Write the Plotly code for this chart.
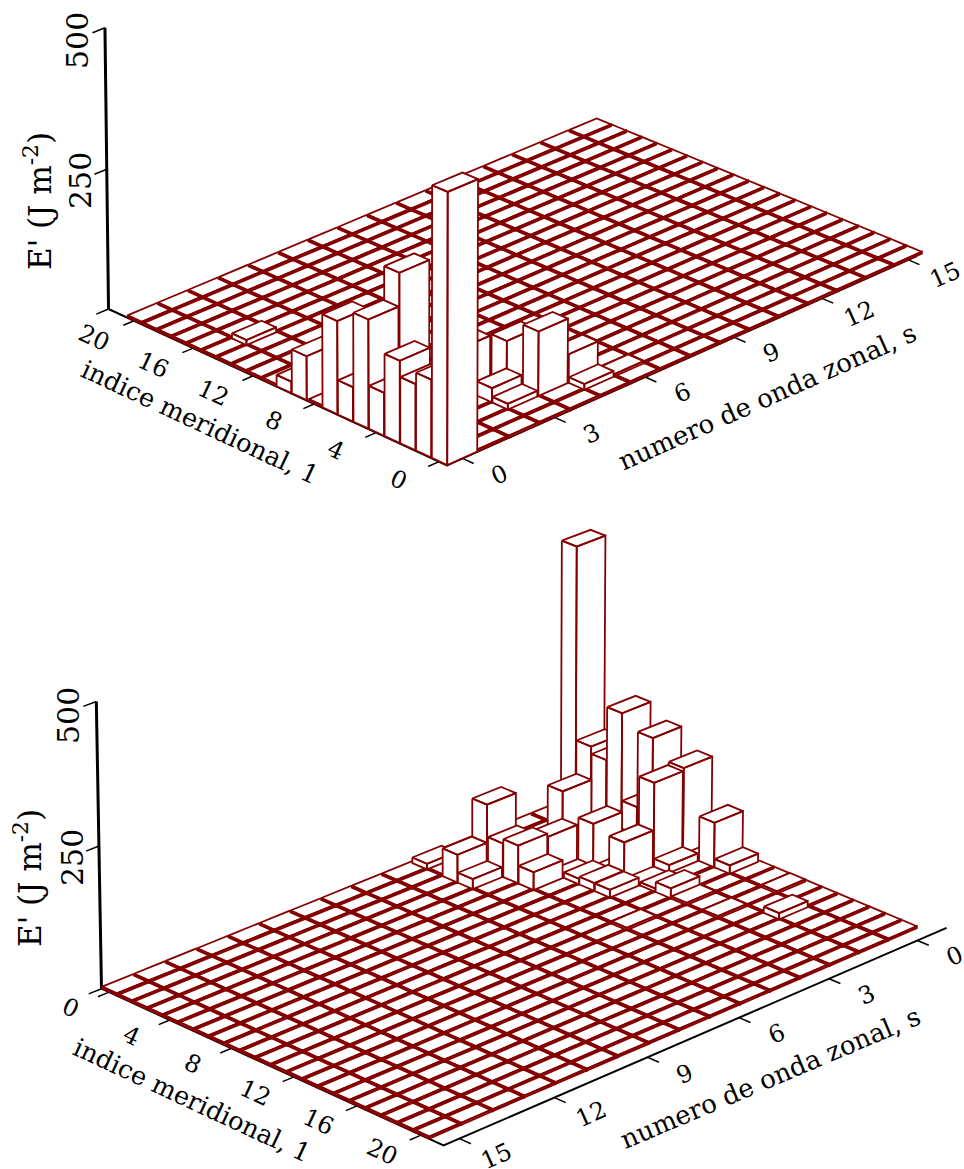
import numpy as np
import plotly.graph_objects as go

RED = "#850000"
FONT = "DejaVu Serif"
S_COUNT = 16
L_COUNT = 21
FLOOR = 3.5
WIDTH = 0.97

top_s = [0,0,0,0,0,0,0,0,0,0,1,4,5,5,3,3,3,4,4,1,1,6]
top_l = [0,1,2,3,4,5,6,7,9,10,5,2,2,1,2,3,5,4,5,15,11,1]
top_v = [468,135,115,143,75,190,60,163,77,20,248,113,50,10,10,25,70,72,50,9,4,4]

bot_s = [0,0,0,0,0,0,0,0,0,1,1,2,2,2,3,5,5,4,4,4,3,3,3,3,2,2,1,0,2,2,4,5,4]
bot_l = [0,1,2,3,4,5,7,9,10,8,7,7,5,3,0,2,3,3,4,5,4,6,7,8,10,9,15,13,11,13,11,0,0]
bot_v = [473,125,112,208,50,186,155,80,15,14,150,65,75,110,73,50,18,60,68,32,62,10,14,14,18,6,11,4,4,4,4,10,5]

s_ticks = [0,3,6,9,12,15]
l_ticks = [0,4,8,12,16,20]
z_ticks = [0,250,500]


def fit_camera(pairs):
    rows, rhs = [], []
    for (s, l, z), (x, y) in pairs:
        rows.append([s, l, z, 1, 0, 0, 0, 0, -x*s, -x*l, -x*z]); rhs.append(x)
        rows.append([0, 0, 0, 0, s, l, z, 1, -y*s, -y*l, -y*z]); rhs.append(y)
    p = np.linalg.lstsq(np.array(rows, float), np.array(rhs, float), rcond=None)[0]
    return np.append(p, 1.0).reshape(3, 4)


def project(P, s, l, z=0.0):
    q = P @ np.array([s, l, z, 1.0])
    return q[0]/q[2], q[1]/q[2]


P_top = fit_camera([
    ((-.5, -.5, 0), (447.5, 466)), ((15.5, -.5, 0), (922, 256)),
    ((15.5, 20.5, 0), (597, 118)), ((-.5, 20.5, 0), (127, 316)),
    ((-.5, 21.75, 0), (108, 308)), ((-.5, 21.75, 250), (107, 172)),
    ((-.5, 21.75, 500), (104, 29)), ((-.5, -.5, 500), (448, 171)),
    ((15.5, -.5, 500), (928, -29)), ((15.5, 20.5, 500), (600, -152)),
])
P_bot = fit_camera([
    ((15.5, -.5, 0), (102, 987)), ((15.5, 20.5, 0), (430, 1140)),
    ((-.5, 20.5, 0), (917, 930)), ((-.5, -.5, 0), (589, 789)),
    ((15.5, -.5, 250), (98, 848)), ((15.5, -.5, 500), (96, 704)),
    ((15.5, 20.5, 500), (428, 840)), ((-.5, 20.5, 500), (923, 645)),
    ((-.5, -.5, 500), (592, 514)),
])


def box_path(P, s, l, v, d):
    w = WIDTH/2
    ns, fs = s + d*w, s - d*w
    nl, fl = l + d*w, l - d*w
    N, L, R, B = (ns, nl), (ns, fl), (fs, nl), (fs, fl)
    xs, ys = [], []
    for face in [[(L, v), (N, v), (R, v), (B, v), (L, v)],
                 [(L, v), (N, v), (N, 0), (L, 0), (L, v)],
                 [(N, v), (R, v), (R, 0), (N, 0), (N, v)]]:
        for (a, b), z in face:
            x, y = project(P, a, b, z)
            xs.append(x); ys.append(y)
        xs.append(None); ys.append(None)
    return xs, ys


def add_bars(fig, P, ss, ls, vs, d, lw=1.8):
    raised = {(a, b): c for a, b, c in zip(ss, ls, vs)}
    fx, fy = [], []
    for s in range(S_COUNT):
        for l in range(L_COUNT):
            if (s, l) not in raised:
                a, b = box_path(P, s, l, FLOOR, d)
                fx += a; fy += b
    fig.add_trace(go.Scatter(x=fx, y=fy, mode="lines", fill="toself", fillcolor="white",
                             line=dict(color=RED, width=lw), hoverinfo="skip", showlegend=False))
    for (s, l), v in sorted(raised.items(), key=lambda kv: d*(kv[0][0]+kv[0][1])):
        a, b = box_path(P, s, l, v, d)
        fig.add_trace(go.Scatter(x=a, y=b, mode="lines", fill="toself", fillcolor="white",
                                 line=dict(color=RED, width=lw), hoverinfo="skip", showlegend=False))


def black(fig, pts, width):
    fig.add_trace(go.Scatter(x=[p[0] for p in pts], y=[p[1] for p in pts], mode="lines",
                             line=dict(color="black", width=width), hoverinfo="skip", showlegend=False))


def label(fig, xy, text, angle, size):
    fig.add_annotation(x=xy[0], y=xy[1], text=text, textangle=angle, showarrow=False,
                       font=dict(family=FONT, size=size, color="black"), xref="x", yref="y")


fig = go.Figure()

# upper panel
black(fig, [project(P_top, -.5, 21.75), project(P_top, -.5, -.5), project(P_top, 15.3, -.5)], 2)
black(fig, [project(P_top, -.5, 21.75, 0), project(P_top, -.5, 21.75, 500)], 3)
for z in z_ticks:
    black(fig, [project(P_top, -.5, 21.75, z), project(P_top, -.9, 21.75, z)], 1.5)
for l in l_ticks:
    black(fig, [project(P_top, -.5, l), project(P_top, -.85, l)], 1.5)
    label(fig, project(P_top, -1.8, l), str(l), 25, 24)
for s in s_ticks:
    black(fig, [project(P_top, s, -.5), project(P_top, s, -1.2)], 1.5)
    label(fig, project(P_top, s, -2.8), str(s), -24, 24)
add_bars(fig, P_top, top_s, top_l, top_v, -1)
label(fig, (77, 41), "500", -90, 30)
label(fig, (80, 181), "250", -90, 30)
label(fig, (38, 201), "E' (J m<sup>-2</sup>)", -90, 31)
label(fig, (200, 422), "indice meridional, 1", 25, 25.5)
label(fig, (767, 397), "numero de onda zonal, s", -24, 26)

# lower panel
black(fig, [project(P_bot, 15.5, -.5), project(P_bot, 15.5, 21.4), project(P_bot, -1, 21.4)], 2)
black(fig, [project(P_bot, 15.5, -.5, 0), project(P_bot, 15.5, -.5, 500)], 3)
for z in z_ticks:
    black(fig, [project(P_bot, 15.5, -.5, z), project(P_bot, 15.9, -.5, z)], 1.5)
for l in l_ticks:
    black(fig, [project(P_bot, 15.5, l), project(P_bot, 15.85, l)], 1.5)
    label(fig, project(P_bot, 16.7, l), str(l), 25, 24)
for s in s_ticks:
    black(fig, [project(P_bot, s, 21.4), project(P_bot, s, 22.1)], 1.5)
    label(fig, project(P_bot, s, 23.7), str(s), -24, 24)
add_bars(fig, P_bot, bot_s, bot_l, bot_v, 1)
label(fig, (68, 716), "500", -90, 30)
label(fig, (72, 858), "250", -90, 30)
label(fig, (28, 878), "E' (J m<sup>-2</sup>)", -90, 31)
label(fig, (192, 1100), "indice meridional, 1", 25, 25.5)
label(fig, (770, 1078), "numero de onda zonal, s", -23, 26)

fig.update_layout(width=964, height=1169, margin=dict(l=0, r=0, t=0, b=0),
                  paper_bgcolor="white", plot_bgcolor="white", showlegend=False,
                  xaxis=dict(visible=False, range=[0, 964], fixedrange=True),
                  yaxis=dict(visible=False, range=[1169, 0], fixedrange=True))
fig.write_html("out.html", config=dict(displayModeBar=False),
               post_script="document.body.style.margin='0';document.documentElement.style.overflow='hidden';")
